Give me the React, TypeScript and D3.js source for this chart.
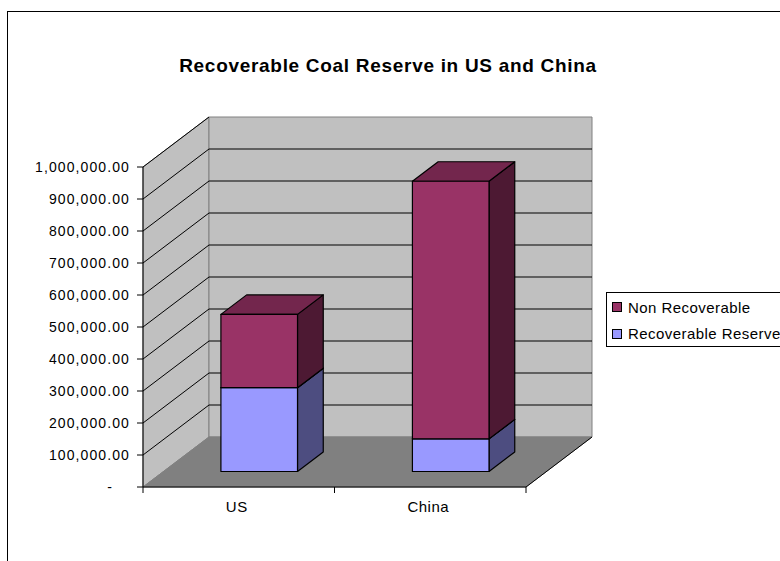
import React from "react";
import * as d3 from "d3";

const categories = ["US", "China"];
const recoverable = [262000, 102000];
const nonRecoverable = [229000, 805000];
const seriesNames = ["Non Recoverable", "Recoverable Reserve"];
const yTicks = [0, 100000, 200000, 300000, 400000, 500000, 600000, 700000, 800000, 900000, 1000000];
const title = "Recoverable Coal Reserve in US and China";

const FONT = "'Liberation Sans', Arial, Helvetica, sans-serif";

export default function App() {
  const x0 = 143;
  const x1 = 526;
  const yBase = 487;
  const DX = 66;
  const DY = 50;
  const y = d3.scaleLinear().domain([0, 1000000]).range([0, 320]);
  const xb = d3.scaleBand<string>().domain(categories).range([x0, x1]).paddingInner(0.6).paddingOuter(0.3);
  const P = (xp: number, v: number, d: number): [number, number] => [xp + d * DX, yBase - y(v) - d * DY];
  const pts = (arr: [number, number][]) => arr.map((p) => p.join(",")).join(" ");
  const fmt = (v: number) => (v === 0 ? "-" : d3.format(",.2f")(v));

  const d1 = 0.31;
  const d2 = 0.7;

  const colors = {
    non: { front: "#993366", top: "#73264D", side: "#4D1933" },
    rec: { front: "#9999FF", top: "#7373BF", side: "#4D4D80" },
  };

  const drawBox = (xl: number, w: number, v0: number, v1: number, c: { front: string; top: string; side: string }, key: string) => {
    const xr = xl + w;
    const front = [P(xl, v0, d1), P(xr, v0, d1), P(xr, v1, d1), P(xl, v1, d1)] as [number, number][];
    const top = [P(xl, v1, d1), P(xr, v1, d1), P(xr, v1, d2), P(xl, v1, d2)] as [number, number][];
    const side = [P(xr, v0, d1), P(xr, v0, d2), P(xr, v1, d2), P(xr, v1, d1)] as [number, number][];
    return (
      <g key={key}>
        <polygon points={pts(side)} fill={c.side} stroke="#000" strokeWidth={1.2} strokeLinejoin="round" />
        <polygon points={pts(top)} fill={c.top} stroke="#000" strokeWidth={1.2} strokeLinejoin="round" />
        <polygon points={pts(front)} fill={c.front} stroke="#000" strokeWidth={1.2} strokeLinejoin="round" />
      </g>
    );
  };

  const vmax = 1000000;
  const backWall = [P(x0, 0, 1), P(x1, 0, 1), P(x1, vmax, 1), P(x0, vmax, 1)] as [number, number][];
  const sideWall = [P(x0, 0, 0), P(x0, 0, 1), P(x0, vmax, 1), P(x0, vmax, 0)] as [number, number][];
  const floor = [P(x0, 0, 0), P(x1, 0, 0), P(x1, 0, 1), P(x0, 0, 1)] as [number, number][];

  return (
    <svg width={780} height={561} style={{ position: "absolute", left: 0, top: 0, background: "#fff" }} fontFamily={FONT}>
      <rect x={0} y={0} width={780} height={561} fill="#fff" />
      <rect x={7.5} y={11.5} width={800} height={600} fill="none" stroke="#000" strokeWidth={1} />
      <text x={388} y={72} textAnchor="middle" fontSize={19} letterSpacing={0.7} fontWeight="bold" fill="#000">{title}</text>

      {/* walls */}
      <polygon points={pts(sideWall)} fill="#C0C0C0" stroke="#808080" strokeWidth={1} />
      <polygon points={pts(backWall)} fill="#C0C0C0" stroke="#808080" strokeWidth={1} />
      <polygon points={pts(floor)} fill="#808080" stroke="#808080" strokeWidth={1} />
      <line x1={P(x1, 0, 0)[0]} y1={P(x1, 0, 0)[1]} x2={P(x1, 0, 1)[0]} y2={P(x1, 0, 1)[1]} stroke="#000" strokeWidth={1} />

      {/* gridlines */}
      {yTicks.filter((v) => v > 0).map((v) => {
        const f = P(x0, v, 0);
        const b = P(x0, v, 1);
        const e = P(x1, v, 1);
        return (
          <g key={"g" + v}>
            <line x1={f[0]} y1={f[1]} x2={b[0]} y2={b[1]} stroke="#000" strokeWidth={1} />
            {v < vmax && <line x1={b[0]} y1={b[1]} x2={e[0]} y2={e[1]} stroke="#000" strokeWidth={1} />}
          </g>
        );
      })}

      {/* bars */}
      {categories.map((c, i) => {
        const xl = xb(c)!;
        const w = xb.bandwidth();
        return (
          <g key={c}>
            {drawBox(xl, w, 0, recoverable[i], colors.rec, c + "r")}
            {drawBox(xl, w, recoverable[i], recoverable[i] + nonRecoverable[i], colors.non, c + "n")}
          </g>
        );
      })}

      {/* axes */}
      <line x1={x0} y1={yBase - y(vmax)} x2={x0} y2={yBase} stroke="#000" strokeWidth={1} />
      <line x1={x0} y1={yBase} x2={x1} y2={yBase} stroke="#000" strokeWidth={1} />
      {yTicks.map((v) => (
        <g key={"t" + v}>
          <line x1={x0 - 6} y1={yBase - y(v)} x2={x0} y2={yBase - y(v)} stroke="#000" strokeWidth={1} />
          <text x={v === 0 ? 113 : 130} y={yBase - y(v) + 5} textAnchor="end" fontSize={14} letterSpacing={1.1} fill="#000">
            {fmt(v)}
          </text>
        </g>
      ))}
      {[x0, x0 + (x1 - x0) / 2, x1].map((xx, i) => (
        <line key={"xt" + i} x1={xx} y1={yBase} x2={xx} y2={yBase + 6} stroke="#000" strokeWidth={1} />
      ))}
      {categories.map((c) => (
        <text key={"xl" + c} x={xb(c)! + xb.bandwidth() / 2 - 2} y={512} textAnchor="middle" fontSize={15} letterSpacing={0.5} fill="#000">
          {c}
        </text>
      ))}

      {/* legend */}
      <rect x={606.5} y={292.5} width={200} height={54} fill="#fff" stroke="#000" strokeWidth={1} />
      {seriesNames.map((n, i) => (
        <g key={n}>
          <rect x={612.5} y={302.5 + i * 27} width={9} height={9} fill={i === 0 ? colors.non.front : colors.rec.front} stroke="#000" strokeWidth={1} />
          <text x={628} y={312.5 + i * 26.5} fontSize={15} letterSpacing={0.45} fill="#000">{n}</text>
        </g>
      ))}
    </svg>
  );
}
